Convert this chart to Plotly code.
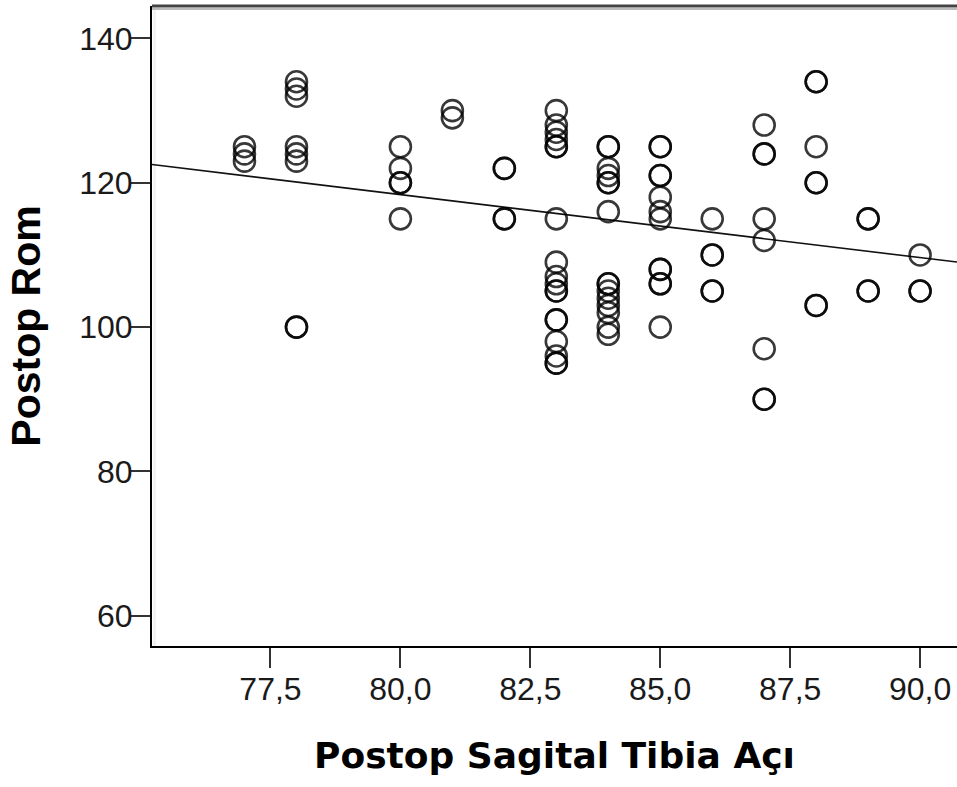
import plotly.graph_objects as go

# Postop sagittal tibia angle (x) and postop range of motion (y), one entry per patient
sagital_tibia = (
    [77] * 3 + [78] * 8 + [80] * 5 + [81] * 2 + [82] * 4 + [83] * 18 + [84] * 15
    + [85] * 12 + [86] * 5 + [87] * 8 + [88] * 7 + [89] * 4 + [90] * 3
)
postop_rom = (
    [125, 124, 123]
    + [134, 133, 132, 125, 124, 123, 100, 100]
    + [125, 122, 120, 120, 115]
    + [130, 129]
    + [122, 122, 115, 115]
    + [130, 128, 127, 126, 125, 125, 115, 109, 107, 106, 105, 105, 101, 101, 98, 96, 95, 95]
    + [125, 125, 122, 121, 120, 120, 116, 106, 106, 105, 104, 103, 102, 100, 99]
    + [125, 125, 121, 121, 118, 116, 115, 108, 108, 106, 106, 100]
    + [115, 110, 110, 105, 105]
    + [128, 124, 124, 115, 112, 97, 90, 90]
    + [134, 134, 125, 120, 120, 103, 103]
    + [115, 115, 105, 105]
    + [110, 105, 105]
)

# Linear fit (total population)
fit_intercept = 188.2
fit_slope = -0.873

x_range = [75.22, 90.71]
y_range = [55.8, 144.5]
y_ticks = [60, 80, 100, 120, 140]

fit_x = x_range
fit_y = [fit_intercept + fit_slope * v for v in fit_x]

fig = go.Figure()

fig.add_trace(go.Scatter(
    x=fit_x, y=fit_y, mode="lines",
    line=dict(color="#111111", width=1.6),
    hoverinfo="skip", showlegend=False,
))

fig.add_trace(go.Scatter(
    x=sagital_tibia, y=postop_rom, mode="markers",
    marker=dict(symbol="circle-open", size=21,
                color="rgba(0,0,0,0.78)",
                line=dict(width=2.6, color="rgba(0,0,0,0.78)")),
    showlegend=False,
))

tick_font = dict(family="Liberation Sans, Arial, sans-serif", size=32, color="#1a1a1a")

fig.update_layout(
    width=957, height=787,
    margin=dict(l=152, r=0, t=6, b=141),
    paper_bgcolor="white", plot_bgcolor="white",
    separators=",.",
    xaxis=dict(
        range=x_range, tick0=77.5, dtick=2.5, tickformat=".1f",
        showgrid=False, zeroline=False,
        showline=True, linecolor="#000000", linewidth=2, mirror=False,
        ticks="outside", ticklen=20, tickwidth=2, tickcolor="#333333",
        tickfont=tick_font, ticklabelstandoff=-6,
        title=dict(text="<b>Postop Sagital Tibia Açı</b>",
                   font=dict(family="DejaVu Sans, sans-serif", size=36, color="black"),
                   standoff=36),
    ),
    yaxis=dict(
        range=y_range, tickvals=y_ticks,
        showgrid=False, zeroline=False,
        showline=True, linecolor="#000000", linewidth=2,
        ticks="outside", ticklen=19, tickwidth=2, tickcolor="#333333",
        tickfont=tick_font, ticklabelstandoff=-8,
        title=dict(text="<b>Postop Rom</b>",
                   font=dict(family="Liberation Sans, Arial, sans-serif", size=41, color="black"),
                   standoff=26),
    ),
)

# frame top edge and soft shadow lines along the axes
fig.add_shape(type="line", xref="paper", yref="paper", x0=0, x1=1, y0=1, y1=1,
              line=dict(color="#444444", width=3))
fig.add_shape(type="line", xref="paper", yref="y", x0=0, x1=1,
              y0=y_range[1] - 0.42, y1=y_range[1] - 0.42,
              line=dict(color="#bbbbbb", width=2))
fig.add_shape(type="line", xref="paper", yref="y", x0=0, x1=1,
              y0=y_range[0] - 0.38, y1=y_range[0] - 0.38,
              line=dict(color="#c8c8c8", width=2), layer="below")
fig.add_shape(type="line", xref="x", yref="paper",
              x0=x_range[0] + 0.05, x1=x_range[0] + 0.05, y0=0, y1=1,
              line=dict(color="#eeeeee", width=2), layer="below")

fig.write_html("out.html")
